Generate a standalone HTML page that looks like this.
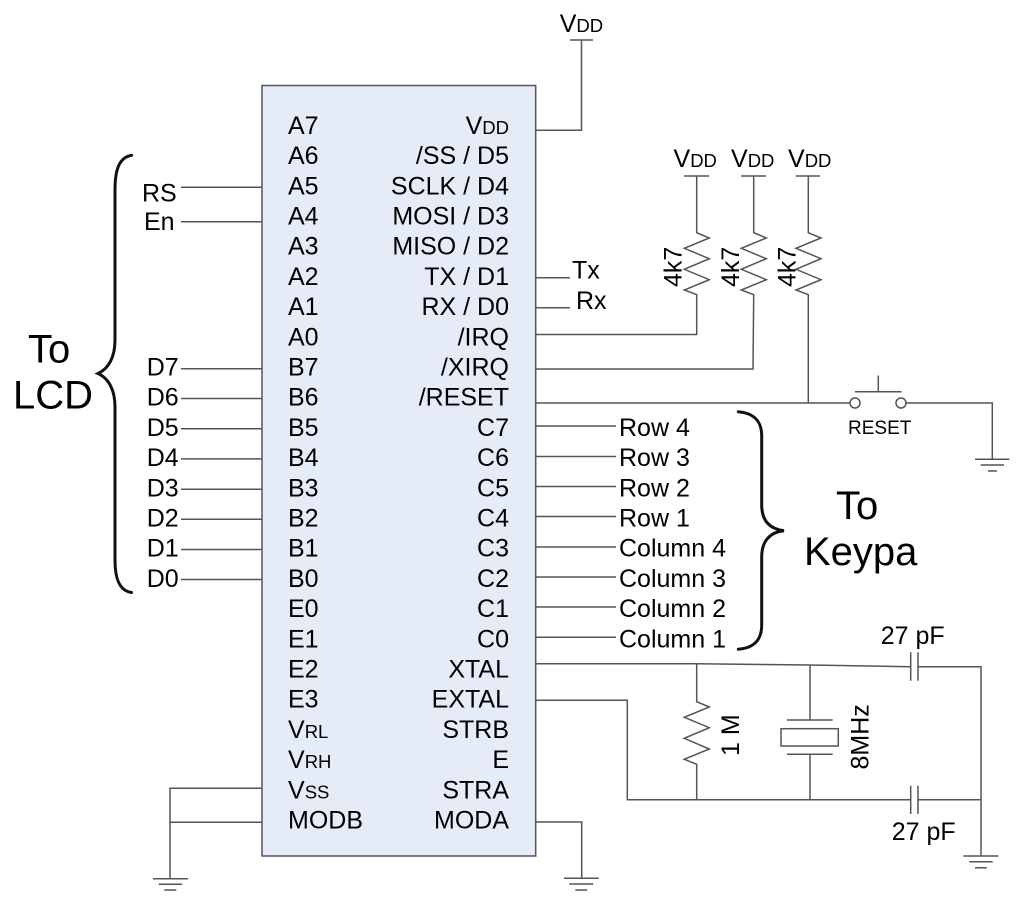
<!DOCTYPE html>
<html><head><meta charset="utf-8"><style>
html,body{margin:0;padding:0;background:#fff}
svg{display:block}
text{font-family:"Liberation Sans",Arial,sans-serif;font-size:25px;fill:#000}
tspan.s{font-size:18.5px}
.w{fill:none;stroke:#555;stroke-width:1.5}
.b{fill:none;stroke:#111;stroke-width:3;stroke-linecap:round}
.e text{text-anchor:end}
text.big{font-size:40px}
</style></head><body>
<svg width="1024" height="905" viewBox="0 0 1024 905" xmlns="http://www.w3.org/2000/svg">
<rect width="1024" height="905" fill="#fff"/>
<rect x="262" y="85.5" width="273.7" height="770.5" fill="#e6ecf7" stroke="#555" stroke-width="1.5"/>

<g class="w">
<path d="M181 187.3H262M181 221.7H262M181 368.7H262M181 398.5H262M181 428.7H262M181 458.9H262M181 489.3H262M181 519.3H262M181 549.5H262M181 579.5H262"/>
<path d="M262 788.3H170V878.7M262 822.3H170"/>
<path d="M153 878.7H188M158.7 884.3H182M164.3 890H176.3"/>
<path d="M536 130.3H581.5V40M570 40H593"/>
<path d="M536 277.7H570M536 307.7H570"/>
<path d="M684 176H709M696.7 176V232.7L709.3 238L684.3 248.3L709.3 258.7L684.3 269.3L709.3 279.7L684.3 290L696.7 294.7V334.5H536"/>
<path d="M741 176H766M753.7 176V232.7L766.3 238L741.3 248.3L766.3 258.7L741.3 269.3L766.3 279.7L741.3 290L753.7 294.7L753 369H536"/>
<path d="M795.7 176H820M808.3 176V232.7L821 238L796 248.3L821 258.7L796 269.3L821 279.7L796 290L808.3 294.7V403"/>
<path d="M536 403H850"/>
<circle cx="855" cy="403" r="5"/><circle cx="901" cy="403" r="5"/>
<path d="M855 391.7H901.5M878.3 375.5V391.7"/>
<path d="M906 403H992.3V459.3M975 459.3H1009.3M980.7 465H1004M988 471H997"/>
<path d="M536 426H616M536 456.5H616M536 486.5H616M536 516.5H616M536 547H616M536 577H616M536 607H616M536 637.3H616"/>
<path d="M536 663.7H696.7L810 665L910.7 666.7M918 666.7H981V856"/>
<path d="M910.7 652.3V680.7M918 652.3V680.7"/>
<path d="M536 700.3H627.3V799.7H910.7M918 799.7H981"/>
<path d="M910.7 785.7V814M918 785.7V814"/>
<path d="M696.7 663.7V701.7L709.3 707L684.3 717.3L709.3 727.7L684.3 738.3L709.3 749L684.3 759.3L696.7 764.3V799.7"/>
<path d="M810 664.5V720M787 720H832.7M810 754.3V799.7M787 754.3H832.7"/>
<rect x="781" y="728.7" width="57.3" height="17.3"/>
<path d="M963.3 856H998.3M969.3 861.7H992.7M975 867.7H986.7"/>
<path d="M536 822H581.7V878.3M564 878.3H598.7M569.3 884H593.3M575.3 890H587.3"/>
</g>

<path class="b" d="M131.7 155.3C120 157 115 168 115 190V340C115 358 108 369 98 373.5C108 378 115 389 115 407V560C115 580 120 591 131.5 592.5"/>
<path class="b" d="M738.3 411.7C753 413 761.7 420 761.7 436V505C761.7 521 770 529 784 530.7C770 532 761.7 541 761.7 557V625C761.7 641 753 648 738.3 649.3"/>

<g>
<text x="288" y="133.9">A7</text><text x="288" y="164.1">A6</text><text x="288" y="194.3">A5</text><text x="288" y="224.5">A4</text>
<text x="288" y="254.7">A3</text><text x="288" y="284.9">A2</text><text x="288" y="315.1">A1</text><text x="288" y="345.3">A0</text>
<text x="288" y="375.5">B7</text><text x="288" y="405.7">B6</text><text x="288" y="435.9">B5</text><text x="288" y="466.1">B4</text>
<text x="288" y="496.3">B3</text><text x="288" y="526.5">B2</text><text x="288" y="556.7">B1</text><text x="288" y="586.9">B0</text>
<text x="288" y="617.1">E0</text><text x="288" y="647.3">E1</text><text x="288" y="677.5">E2</text><text x="288" y="707.7">E3</text>
<text x="288" y="737.9">V<tspan class="s">RL</tspan></text><text x="288" y="768.1">V<tspan class="s">RH</tspan></text><text x="288" y="798.3">V<tspan class="s">SS</tspan></text><text x="288" y="828.5">MODB</text>
</g>
<g class="e">
<text x="509" y="133.9">V<tspan class="s">DD</tspan></text><text x="509" y="164.1">/SS / D5</text><text x="509" y="194.3">SCLK / D4</text><text x="509" y="224.5">MOSI / D3</text>
<text x="509" y="254.7">MISO / D2</text><text x="509" y="284.9">TX / D1</text><text x="509" y="315.1">RX / D0</text><text x="509" y="345.3">/IRQ</text>
<text x="509" y="375.5">/XIRQ</text><text x="509" y="405.7">/RESET</text><text x="509" y="435.9">C7</text><text x="509" y="466.1">C6</text>
<text x="509" y="496.3">C5</text><text x="509" y="526.5">C4</text><text x="509" y="556.7">C3</text><text x="509" y="586.9">C2</text>
<text x="509" y="617.1">C1</text><text x="509" y="647.3">C0</text><text x="509" y="677.5">XTAL</text><text x="509" y="707.7">EXTAL</text>
<text x="509" y="737.9">STRB</text><text x="509" y="768.1">E</text><text x="509" y="798.3">STRA</text><text x="509" y="828.5">MODA</text>
</g>

<text x="142" y="201.7">RS</text><text x="144" y="230">En</text>
<text x="146.7" y="375.5">D7</text><text x="146.7" y="405.7">D6</text><text x="146.7" y="435.9">D5</text><text x="146.7" y="466.1">D4</text>
<text x="146.7" y="496.3">D3</text><text x="146.7" y="526.5">D2</text><text x="146.7" y="556.7">D1</text><text x="146.7" y="586.9">D0</text>

<text class="big" x="28" y="362.7">To</text><text class="big" x="13" y="408.5">LCD</text>
<text class="big" x="836" y="519">To</text><text class="big" x="804" y="565">Keypa</text>

<text x="559.7" y="32">V<tspan class="s">DD</tspan></text>
<text x="673.5" y="167">V<tspan class="s">DD</tspan></text>
<text x="731" y="167">V<tspan class="s">DD</tspan></text>
<text x="788" y="167">V<tspan class="s">DD</tspan></text>

<text transform="translate(681.7 287) rotate(-90)">4k7</text>
<text transform="translate(739 287) rotate(-90)">4k7</text>
<text transform="translate(795.7 287) rotate(-90)">4k7</text>

<text x="572" y="278.7">Tx</text><text x="576" y="309">Rx</text>

<text x="619" y="435.9">Row 4</text><text x="619" y="466.1">Row 3</text><text x="619" y="496.3">Row 2</text><text x="619" y="526.5">Row 1</text>
<text x="619" y="556.7">Column 4</text><text x="619" y="586.9">Column 3</text><text x="619" y="617.1">Column 2</text><text x="619" y="647.3">Column 1</text>

<text x="848" y="434" style="font-size:19px">RESET</text>
<text x="880.7" y="644">27 pF</text><text x="891.7" y="840">27 pF</text>
<text transform="translate(739 756) rotate(-90)">1 M</text>
<text transform="translate(868.3 769.5) rotate(-90)">8MHz</text>
</svg>
</body></html>
